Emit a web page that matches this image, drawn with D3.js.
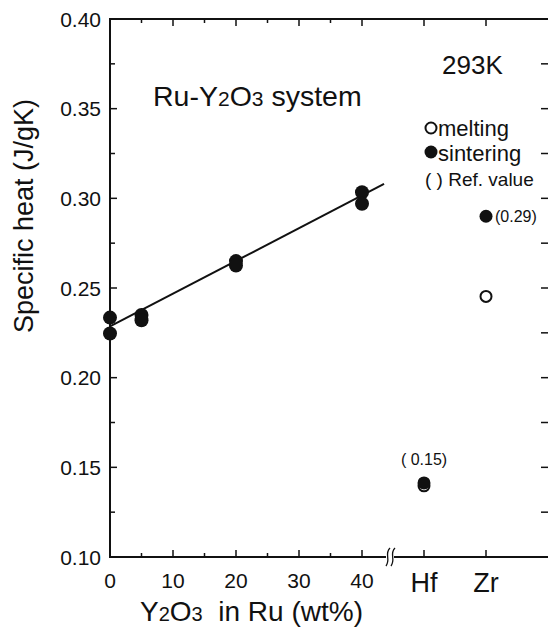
<!DOCTYPE html>
<meta charset="utf-8">
<html>
<head>
	<script src="https://cdn.jsdelivr.net/npm/d3@7"></script>
	<style>
		body { margin: 0; background: #fff; }
		svg text { font-family: "Liberation Sans", Arial, sans-serif; fill: #111; }
	</style>
</head>
<body>
	<svg id="chart"></svg>
	<script>
	// wt% of Y2O3, sintered samples
	var wtPct = [0, 0, 5, 5, 20, 20, 40, 40];
	var sinterVals = [0.2335, 0.2246, 0.235, 0.232, 0.265, 0.2625, 0.3034, 0.297];
	// fitted line end points
	var fitX = [0, 43.5];
	var fitY = [0.2286, 0.308];
	// reference metals
	var metals = ["Hf", "Zr"];
	var metalSinter = [0.1413, 0.290];
	var metalMelt = [0.1397, 0.2453];
	var metalRef = ["( 0.15)", "(0.29)"];

	var yTicks = [0.10, 0.15, 0.20, 0.25, 0.30, 0.35, 0.40];
	var yMinor = [0.125, 0.175, 0.225, 0.275, 0.325, 0.375];
	var xTicks = [0, 10, 20, 30, 40];
	var xMinor = [5, 15, 25, 35];

	var svgWidth = 548, svgHeight = 630;
	var plotL = 110, plotR = 549, plotT = 19, plotB = 557;

	var svg = d3.select("#chart")
		.attr("width", svgWidth)
		.attr("height", svgHeight);

	var x = d3.scaleLinear().domain([0, 40]).range([plotL, 362]);
	var xm = d3.scalePoint().domain(metals).range([424, 486]);
	var y = d3.scaleLinear().domain([0.10, 0.40]).range([plotB, plotT]);

	var ink = "#111";

	// frame
	svg.append("path")
		.attr("d", "M" + plotR + "," + plotT + "H" + plotL + "V" + plotB + "H" + plotR)
		.attr("fill", "none").attr("stroke", ink).attr("stroke-width", 2);

	// left axis ticks + labels
	svg.selectAll(".ytick").data(yTicks).enter().append("line")
		.attr("x1", plotL).attr("x2", plotL + 7)
		.attr("y1", function(d) { return y(d); }).attr("y2", function(d) { return y(d); })
		.attr("stroke", ink).attr("stroke-width", 1.5);
	svg.selectAll(".yminor").data(yMinor).enter().append("line")
		.attr("x1", plotL).attr("x2", plotL + 5)
		.attr("y1", function(d) { return y(d); }).attr("y2", function(d) { return y(d); })
		.attr("stroke", ink).attr("stroke-width", 1.5);
	svg.selectAll(".ylab").data(yTicks).enter().append("text")
		.attr("x", 101).attr("y", function(d) { return y(d); })
		.attr("dy", "0.36em").attr("text-anchor", "end")
		.style("font-size", "21px")
		.text(function(d) { return d.toFixed(2); });

	// right side ticks
	svg.selectAll(".rtick").data(yTicks.concat(yMinor)).enter().append("line")
		.attr("x1", plotR - 8).attr("x2", plotR)
		.attr("y1", function(d) { return y(d); }).attr("y2", function(d) { return y(d); })
		.attr("stroke", ink).attr("stroke-width", 1.5);

	// bottom + top ticks
	[plotB, plotT].forEach(function(base) {
		var dir = base == plotB ? -1 : 1;
		svg.append("g").selectAll("line").data(xTicks.slice(1)).enter().append("line")
			.attr("x1", function(d) { return x(d); }).attr("x2", function(d) { return x(d); })
			.attr("y1", base).attr("y2", base + dir * 7)
			.attr("stroke", ink).attr("stroke-width", 1.5);
		svg.append("g").selectAll("line").data(xMinor).enter().append("line")
			.attr("x1", function(d) { return x(d); }).attr("x2", function(d) { return x(d); })
			.attr("y1", base).attr("y2", base + dir * 4)
			.attr("stroke", ink).attr("stroke-width", 1.5);
		svg.append("g").selectAll("line").data(metals).enter().append("line")
			.attr("x1", function(d) { return xm(d); }).attr("x2", function(d) { return xm(d); })
			.attr("y1", base).attr("y2", base + dir * 7)
			.attr("stroke", ink).attr("stroke-width", 1.5);
	});

	svg.selectAll(".xlab").data(xTicks).enter().append("text")
		.attr("x", function(d) { return x(d); }).attr("y", 588)
		.attr("text-anchor", "middle")
		.style("font-size", "21px")
		.text(function(d) { return d; });
	svg.selectAll(".mlab").data(metals).enter().append("text")
		.attr("x", function(d) { return xm(d); }).attr("y", 592)
		.attr("text-anchor", "middle")
		.style("font-size", "27px")
		.text(function(d) { return d; });

	// axis break marks
	var bx = 391;
	svg.append("rect").attr("x", bx - 5).attr("y", plotB - 3).attr("width", 8).attr("height", 6).attr("fill", "#fff");
	[-3, 2].forEach(function(off) {
		svg.append("path")
			.attr("d", "M" + (bx + off + 2) + "," + (plotB - 9) + "C" + (bx + off - 4) + "," + (plotB - 3) + " " + (bx + off + 3) + "," + (plotB + 2) + " " + (bx + off - 2) + "," + (plotB + 9))
			.attr("fill", "none").attr("stroke", ink).attr("stroke-width", 1.3);
	});

	// fit line
	svg.append("line")
		.attr("x1", x(fitX[0])).attr("y1", y(fitY[0]))
		.attr("x2", x(fitX[1])).attr("y2", y(fitY[1]))
		.attr("stroke", ink).attr("stroke-width", 2);

	// sintered points
	svg.selectAll(".pt").data(wtPct).enter().append("circle")
		.attr("cx", function(d) { return x(d); })
		.attr("cy", function(d, i) { return y(sinterVals[i]); })
		.attr("r", 7).attr("fill", ink);

	// metals: melting (open) then sintering (filled)
	svg.selectAll(".melt").data(metals).enter().append("circle")
		.attr("cx", function(d) { return xm(d); })
		.attr("cy", function(d, i) { return y(metalMelt[i]); })
		.attr("r", 5.5).attr("fill", "#fff").attr("stroke", ink).attr("stroke-width", 2);
	svg.selectAll(".sint").data(metals).enter().append("circle")
		.attr("cx", function(d) { return xm(d); })
		.attr("cy", function(d, i) { return y(metalSinter[i]); })
		.attr("r", 6.5).attr("fill", ink);

	// reference values
	svg.append("text").attr("x", xm("Hf")).attr("y", y(metalSinter[0]) - 18)
		.attr("text-anchor", "middle").style("font-size", "16px").text(metalRef[0]);
	svg.append("text").attr("x", xm("Zr") + 9).attr("y", y(metalSinter[1]))
		.attr("dy", "0.36em").style("font-size", "16px").text(metalRef[1]);

	// annotations
	var t1 = svg.append("text").attr("x", 153).attr("y", 106).style("font-size", "28.5px");
	t1.append("tspan").text("Ru-Y");
	t1.append("tspan").style("font-size", "21px").text("2");
	t1.append("tspan").text("O");
	t1.append("tspan").style("font-size", "21px").text("3");
	t1.append("tspan").text(" system");

	svg.append("text").attr("x", 442).attr("y", 74).style("font-size", "26px").text("293K");

	svg.append("circle").attr("cx", 431).attr("cy", 128).attr("r", 5.5).attr("fill", "#fff").attr("stroke", ink).attr("stroke-width", 2);
	svg.append("text").attr("x", 438).attr("y", 136).style("font-size", "22px").text("melting");
	svg.append("circle").attr("cx", 431).attr("cy", 152).attr("r", 6.5).attr("fill", ink);
	svg.append("text").attr("x", 438).attr("y", 161).style("font-size", "22px").text("sintering");
	svg.append("text").attr("x", 425).attr("y", 186).style("font-size", "19px").text("( ) Ref. value");

	// axis titles
	var xt = svg.append("text").attr("x", 140).attr("y", 621).style("font-size", "28px");
	xt.append("tspan").text("Y");
	xt.append("tspan").style("font-size", "20px").text("2");
	xt.append("tspan").text("O");
	xt.append("tspan").style("font-size", "20px").text("3");
	xt.append("tspan").text("\u00a0 in Ru (wt%)");

	svg.append("text")
		.attr("transform", "translate(33,216) rotate(-90)")
		.attr("text-anchor", "middle")
		.style("font-size", "27px")
		.text("Specific heat (J/gK)");
	</script>
</body>
</html>
